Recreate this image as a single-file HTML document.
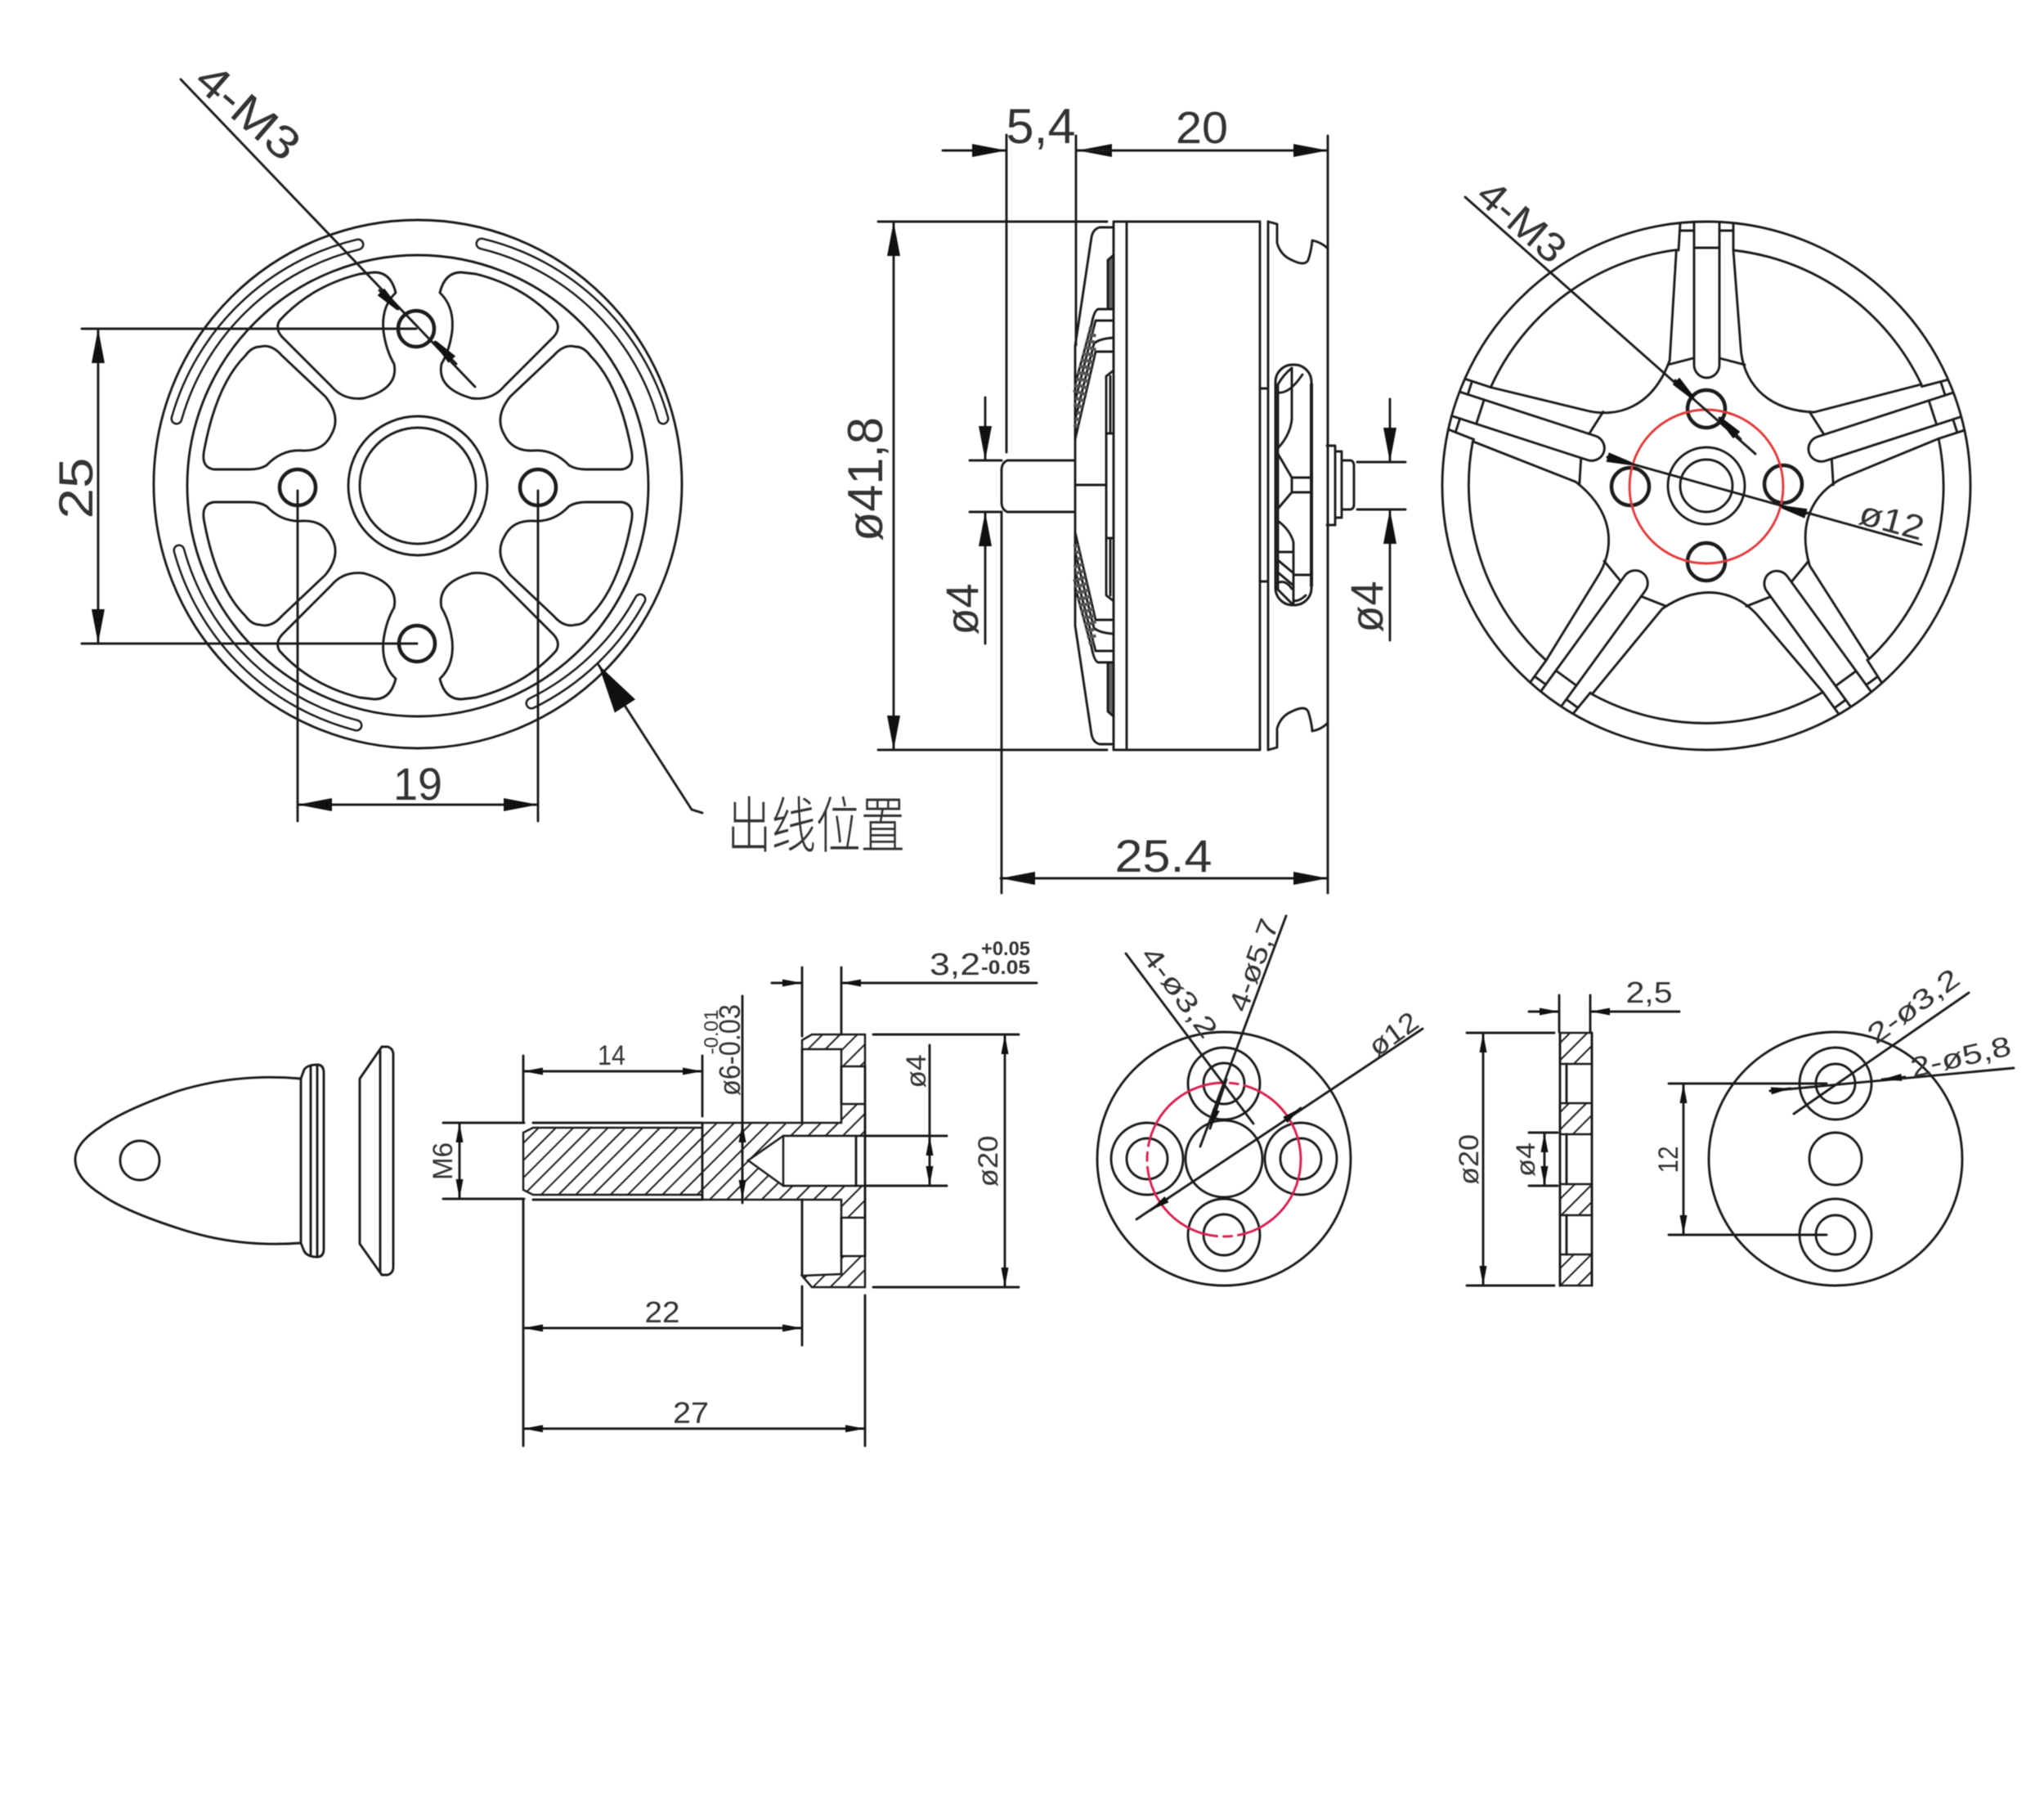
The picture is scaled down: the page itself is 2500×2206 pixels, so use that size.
<!DOCTYPE html>
<html><head><meta charset="utf-8"><title>Motor drawing</title>
<style>
html,body{margin:0;padding:0;background:#fff;width:2500px;height:2206px;overflow:hidden}
svg{display:block;filter:blur(.6px)}
text{font-family:"Liberation Sans","Noto Sans CJK SC",sans-serif;fill:#333;text-anchor:middle}
.l{fill:none;stroke:#1c1c1c;stroke-width:2.9;stroke-linecap:round;stroke-linejoin:round}
.t{stroke:#1c1c1c;stroke-width:2.5}
</style></head><body>
<svg xmlns="http://www.w3.org/2000/svg" width="2500" height="2206" viewBox="0 0 2500 2206">
<defs>
<marker id="A" markerUnits="userSpaceOnUse" viewBox="0 0 42 16" refX="42" refY="8" markerWidth="42" markerHeight="16" orient="auto-start-reverse"><path d="M0,0L42,8L0,16z" fill="#111"/></marker>
<marker id="S" markerUnits="userSpaceOnUse" viewBox="0 0 24 9" refX="24" refY="4.5" markerWidth="24" markerHeight="9" orient="auto-start-reverse"><path d="M0,0L24,4.5L0,9z" fill="#111"/></marker>
<marker id="T" markerUnits="userSpaceOnUse" viewBox="0 0 30 12" refX="30" refY="6" markerWidth="30" markerHeight="12" orient="auto-start-reverse"><path d="M0,0L30,4L30,8L0,12z" fill="#111"/></marker>
<marker id="W" markerUnits="userSpaceOnUse" viewBox="0 0 60 30" refX="60" refY="15" markerWidth="60" markerHeight="30" orient="auto-start-reverse"><path d="M0,0L60,15L0,30z" fill="#111"/></marker>
<pattern id="h" patternUnits="userSpaceOnUse" width="15" height="15" patternTransform="rotate(45)"><line x1="0" y1="0" x2="0" y2="15" stroke="#222" stroke-width="4"/></pattern>
<path id="p1" d="M342,392Q380,350 440,335L458,333Q478,333 484,358Q466,375 469,405Q472,428 482,445Q488,475 445,487Q420,490 405,472L345,412Q336,402 342,392Z"/>
<path id="p2" d="M318,424Q332,420 345,435L398,485Q418,510 405,532Q395,552 370,551Q345,549 326,569Q318,574 305,574L262,574Q245,572 250,549Q265,470 300,435Q308,424 318,424Z"/>
<g id="sp">
<path d="M33,-288L42,-170C44,-130 70,-92 132,-90L263,-124A290,290 0 0 0 33,-288Z"/>
<path d="M-15,-322L-15,-148A15.5,16 0 0 0 16,-148L16,-322"/>
<path d="M-15,-291H16M-32,-312H-15M16,-312H33M33,-321L33,-288M-32,-321L-34,-288M-47,-148L-16,-156M16,-156L47,-148"/>
</g>
<g id="cupper">
<path d="M1362,278H1345Q1337,280 1335,290L1315,423V537"/>
<path d="M1362,378H1343Q1338,380 1335,397L1315,470M1362,392H1340L1315,490M1362,413Q1345,414 1338,420L1315,513M1362,430H1340L1315,537"/>
<path d="M1335,400L1315,480M1338,408L1315,500M1338,425L1315,525" stroke="#555" stroke-width="6" stroke-dasharray="4 4" stroke-linecap="butt"/>
<path d="M1362,312L1355,318V378H1362Z" fill="#666"/>
<path d="M1362,453L1353,460V594M1358,460V530"/>
<path d="M1353,530H1362"/>
<path d="M1551,271L1562,274L1562,297Q1566,312 1580,318Q1596,326 1600,318Q1604,306 1605,294Q1616,296 1624,304"/>
</g>
</defs>

<!-- LEFT VIEW -->
<g class="l">
<circle cx="511" cy="592" r="323"/>
<circle cx="511" cy="594" r="282"/>
<circle cx="511" cy="594" r="85"/>
<circle cx="511" cy="594" r="71"/>
<circle cx="509" cy="402" r="22" stroke-width="4.5"/>
<circle cx="510" cy="787" r="22" stroke-width="4.5"/>
<circle cx="364" cy="596" r="22" stroke-width="4.5"/>
<circle cx="658" cy="596" r="22" stroke-width="4.5"/>
<use href="#p1"/><use href="#p2"/>
<g transform="translate(1022,0) scale(-1,1)"><use href="#p1"/><use href="#p2"/></g>
<g transform="translate(0,1188) scale(1,-1)"><use href="#p1"/><use href="#p2"/></g>
<g transform="translate(1022,1188) scale(-1,-1)"><use href="#p1"/><use href="#p2"/></g>
<path d="M438,299A304,304 0 0 0 216,512" stroke-width="15"/>
<path d="M589,298A304,304 0 0 1 811,512" stroke-width="15"/>
<path d="M219,673A304,304 0 0 0 436,887" stroke-width="15"/>
<path d="M783,733A304,304 0 0 1 650,860" stroke-width="15"/>
<path d="M438,299A304,304 0 0 0 216,512" stroke="#fff" stroke-width="10"/>
<path d="M589,298A304,304 0 0 1 811,512" stroke="#fff" stroke-width="10"/>
<path d="M219,673A304,304 0 0 0 436,887" stroke="#fff" stroke-width="10"/>
<path d="M783,733A304,304 0 0 1 650,860" stroke="#fff" stroke-width="10"/>
<!-- dims -->
<path d="M221,97L581,473"/>
<path d="M464,355L487,378" marker-end="url(#T)"/>
<path d="M558,445L532,418" marker-end="url(#T)"/>
<path d="M100,402H509M100,787H510"/>
<path d="M120,402V787" marker-start="url(#A)" marker-end="url(#A)"/>
<path d="M364,600V1004M658,600V1004"/>
<path d="M364,984H658" marker-start="url(#A)" marker-end="url(#A)"/>
<path d="M859,994L846,990L732,813" marker-end="url(#W)"/>
</g>
<text transform="translate(304,136) rotate(41)" y="20" font-size="56" textLength="148" lengthAdjust="spacingAndGlyphs">4-M3</text>
<text transform="translate(93,597) rotate(-90)" y="20" font-size="58" textLength="75" lengthAdjust="spacingAndGlyphs">25</text>
<text x="511" y="978" font-size="56" textLength="60" lengthAdjust="spacingAndGlyphs">19</text>
<text transform="translate(998,1036) scale(1,1.38)" font-size="54" textLength="218" lengthAdjust="spacingAndGlyphs" font-weight="300">出线位置</text>

<!-- MOTOR SIDE VIEW -->
<g class="l">
<path d="M1362,271V917M1378,271V917M1541,271V917M1362,271H1541M1362,917H1541"/>
<path d="M1551,271V917M1624,304V884M1541,475H1551M1541,711H1551"/>
<use href="#cupper"/>
<g transform="translate(0,1188) scale(1,-1)"><use href="#cupper"/></g>
<path d="M1315,563H1232Q1225,566 1225,575V614Q1225,623 1232,626H1315M1315,537V651M1315,593H1353"/>
<!-- vent window -->
<rect x="1560" y="446" width="44" height="294" rx="21" stroke-width="3"/>
<path d="M1604,470V716" stroke-width="4"/>
<path d="M1563,470V720M1580,450V513Q1578,532 1563,548M1563,555L1580,584H1604M1580,584V602M1580,602H1604M1580,602L1563,622M1563,637Q1578,648 1582,663V703H1602M1582,703V738M1563,470Q1570,458 1580,450M1563,480Q1577,482 1593,458M1563,675H1582M1563,685L1581,700M1563,700L1582,716M1562,713Q1572,708 1580,720M1562,720L1580,738M1582,735Q1590,735 1597,728"/>
<!-- nub -->
<path d="M1623,545H1633V552H1641V563H1652Q1656,564 1656,570V617Q1656,622 1652,623H1641V633H1633V642H1623M1633,552V633M1641,563V623"/>
<!-- dims -->
<path d="M1231,165V553M1316,166V422M1624,166V1092M1225,626V1092"/>
<path d="M1153,184H1231" marker-end="url(#A)"/>
<path d="M1318,184H1400" marker-start="url(#A)"/>
<path d="M1330,184H1624" marker-end="url(#A)"/>
<path d="M1074,271H1354M1074,917H1354"/>
<path d="M1093,271V917" marker-start="url(#A)" marker-end="url(#A)"/>
<path d="M1186,563H1225M1186,626H1225"/>
<path d="M1205,486V563" marker-end="url(#A)"/>
<path d="M1205,787V626" marker-end="url(#A)"/>
<path d="M1660,565H1719M1660,623H1719"/>
<path d="M1700,488V565" marker-end="url(#A)"/>
<path d="M1700,783V623" marker-end="url(#A)"/>
<path d="M1224,1074H1624" marker-start="url(#A)" marker-end="url(#A)"/>
</g>
<text x="1273" y="175" font-size="60" textLength="85" lengthAdjust="spacingAndGlyphs">5,4</text>
<text x="1470" y="175" font-size="55" textLength="64" lengthAdjust="spacingAndGlyphs">20</text>
<text transform="translate(1058,586) rotate(-90)" y="21" font-size="60" textLength="152" lengthAdjust="spacingAndGlyphs">ø41,8</text>
<text transform="translate(1176,745) rotate(-90)" y="20" font-size="56" textLength="63" lengthAdjust="spacingAndGlyphs">ø4</text>
<text transform="translate(1671,742) rotate(-90)" y="20" font-size="56" textLength="63" lengthAdjust="spacingAndGlyphs">ø4</text>
<text x="1423" y="1066" font-size="56" textLength="119" lengthAdjust="spacingAndGlyphs">25.4</text>

<!-- WHEEL VIEW -->
<g class="l">
<circle cx="2087" cy="594" r="323"/>
<circle cx="2087" cy="594" r="47"/>
<circle cx="2087" cy="594" r="32"/>
<circle cx="2087" cy="500" r="23" stroke-width="4.5"/>
<circle cx="2087" cy="687" r="23" stroke-width="4.5"/>
<circle cx="1994" cy="595" r="23" stroke-width="4.5"/>
<circle cx="2181" cy="592" r="23" stroke-width="4.5"/>
<use href="#sp" transform="translate(2087,594)"/>
<use href="#sp" transform="translate(2087,594) rotate(72)"/>
<use href="#sp" transform="translate(2087,594) rotate(144)"/>
<use href="#sp" transform="translate(2087,594) rotate(216)"/>
<use href="#sp" transform="translate(2087,594) rotate(288)"/>
<circle cx="2087" cy="595" r="94" stroke="#e23b3b"/>
<path d="M1792,241L2147,555"/>
<path d="M2049,465L2071,487" marker-end="url(#T)"/>
<path d="M2129,537L2103,511" marker-end="url(#T)"/>
<path d="M1966,559L2350,666"/>
<path d="M1966,559L1995,567" marker-end="url(#T)"/>
<path d="M2209,628L2180,620" marker-end="url(#T)"/>
</g>
<text transform="translate(1862,270) rotate(41)" y="18" font-size="50" textLength="125" lengthAdjust="spacingAndGlyphs">4-M3</text>
<text transform="translate(2314,636) rotate(15)" y="15" font-size="42" textLength="80" lengthAdjust="spacingAndGlyphs">ø12</text>

<!-- BOTTOM ROW: nut and washer -->
<g class="l">
<path d="M368,1319Q290,1312 218,1334Q150,1358 123,1378Q92,1398 92,1418Q92,1440 123,1460Q150,1480 218,1502Q290,1526 368,1520"/>
<circle cx="171" cy="1419" r="24"/>
<path d="M368,1319L372,1308Q376,1302 388,1302Q396,1302 396,1312V1527Q396,1537 388,1537Q376,1537 372,1530L368,1520Z"/>
<path d="M380,1304V1535M388,1302V1537"/>
<path d="M467,1280H474Q481,1282 481,1290V1549Q481,1557 474,1559H467L440,1521V1319Z"/>
<path d="M465,1285V1555"/>
</g>
<!-- bolt section -->
<path d="M640,1385L652,1379H859V1373H1029V1350H1058V1389H958L915,1419L958,1450H1058V1489H1029V1467H859V1461H652L640,1455Z" fill="url(#h)" class="t"/>
<path d="M958,1389H1058V1450H958Z" fill="#fff" class="t"/>
<path d="M993,1265H1058V1304H1029V1283H981V1272Z" fill="url(#h)" class="t"/>
<path d="M981,1560L993,1574H1058V1536H1029V1558Z" fill="url(#h)" class="t"/>
<g class="l">
<path d="M652,1373H859M652,1467H859M859,1373V1467"/>
<path d="M981,1283V1371M981,1467V1558M1029,1304V1350M1029,1489V1536M1058,1304V1536M1047,1389V1450"/>
<!-- dims -->
<path d="M981,1183V1267M1029,1183V1265"/>
<path d="M944,1202H981" marker-end="url(#S)"/>
<path d="M1268,1202H1029" marker-end="url(#S)"/>
<path d="M640,1291V1373M859,1291V1365"/>
<path d="M640,1310H859" marker-start="url(#S)" marker-end="url(#S)"/>
<path d="M908,1218V1471"/>
<path d="M908,1373V1410" marker-start="url(#S)"/>
<path d="M908,1430V1467" marker-end="url(#S)"/>
<path d="M542,1373H641M542,1466H641"/>
<path d="M562,1373V1466" marker-start="url(#S)" marker-end="url(#S)"/>
<path d="M1058,1389H1158M1058,1450H1158"/>
<path d="M1137,1278V1389"/>
<path d="M1137,1389V1450" marker-start="url(#S)" marker-end="url(#S)"/>
<path d="M1068,1265H1246M1068,1574H1246"/>
<path d="M1229,1265V1574" marker-start="url(#S)" marker-end="url(#S)"/>
<path d="M640,1467V1768M981,1573V1645M1058,1584V1768"/>
<path d="M640,1624H981" marker-start="url(#S)" marker-end="url(#S)"/>
<path d="M640,1747H1058" marker-start="url(#S)" marker-end="url(#S)"/>
</g>
<text x="1168" y="1192" font-size="38" textLength="62" lengthAdjust="spacingAndGlyphs">3,2</text>
<text x="1230" y="1168" font-size="24" textLength="60" lengthAdjust="spacingAndGlyphs" font-weight="bold">+0.05</text>
<text x="1230" y="1191" font-size="24" textLength="60" lengthAdjust="spacingAndGlyphs" font-weight="bold">-0.05</text>
<text transform="translate(892,1284) rotate(-90)" y="13" font-size="36" textLength="112" lengthAdjust="spacingAndGlyphs">ø6-0.03</text>
<text transform="translate(869,1262) rotate(-90)" y="9" font-size="24" textLength="55" lengthAdjust="spacingAndGlyphs">-0.01</text>
<text x="748" y="1302" font-size="34" textLength="34" lengthAdjust="spacingAndGlyphs">14</text>
<text transform="translate(541,1420) rotate(-90)" y="12" font-size="34" textLength="46" lengthAdjust="spacingAndGlyphs">M6</text>
<text transform="translate(1120,1310) rotate(-90)" y="12" font-size="34" textLength="41" lengthAdjust="spacingAndGlyphs">ø4</text>
<text transform="translate(1208,1420) rotate(-90)" y="12" font-size="34" textLength="63" lengthAdjust="spacingAndGlyphs">ø20</text>
<text x="810" y="1617" font-size="36" textLength="43" lengthAdjust="spacingAndGlyphs">22</text>
<text x="845" y="1740" font-size="36" textLength="44" lengthAdjust="spacingAndGlyphs">27</text>

<!-- FLANGE DISC -->
<g class="l">
<circle cx="1497" cy="1417" r="155"/>
<circle cx="1497" cy="1417" r="47"/>
<circle cx="1497" cy="1325" r="44"/><circle cx="1497" cy="1325" r="25"/>
<circle cx="1497" cy="1510" r="44"/><circle cx="1497" cy="1510" r="25"/>
<circle cx="1403" cy="1417" r="44"/><circle cx="1403" cy="1417" r="25"/>
<circle cx="1591" cy="1417" r="44"/><circle cx="1591" cy="1417" r="25"/>
<circle cx="1497" cy="1418" r="94" stroke="#d8204f" stroke-dasharray="130 8 10 8"/>
<path d="M1377,1166L1533,1374"/>
<path d="M1573,1120L1468,1402"/>
<path d="M1500,1320L1480,1380" marker-end="url(#S)"/>
<path d="M1740,1258L1390,1491"/>
<path d="M1570,1371L1591,1355" marker-end="url(#S)"/>
<path d="M1428,1466L1407,1480" marker-end="url(#S)"/>
</g>
<text transform="translate(1443,1213) rotate(53)" y="12" font-size="34" textLength="130" lengthAdjust="spacingAndGlyphs">4-ø3,2</text>
<text transform="translate(1533,1180) rotate(-70)" y="12" font-size="34" textLength="118" lengthAdjust="spacingAndGlyphs">4-ø5,7</text>
<text transform="translate(1704,1264) rotate(-36)" y="12" font-size="34" textLength="66" lengthAdjust="spacingAndGlyphs">ø12</text>

<!-- WASHER SECTION -->
<path d="M1908,1263H1947V1301H1908Z" fill="url(#h)" class="t"/>
<path d="M1908,1349H1947V1387H1908Z" fill="url(#h)" class="t"/>
<path d="M1908,1448H1947V1486H1908Z" fill="url(#h)" class="t"/>
<path d="M1908,1534H1947V1572H1908Z" fill="url(#h)" class="t"/>
<g class="l">
<path d="M1908,1263V1572M1947,1263V1572M1916,1301V1349M1916,1387V1448M1916,1486V1534"/>
<path d="M1907,1217V1262M1945,1217V1262"/>
<path d="M1870,1237H1907" marker-end="url(#S)"/>
<path d="M2054,1237H1945" marker-end="url(#S)"/>
<path d="M1794,1263H1901M1794,1572H1901"/>
<path d="M1814,1263V1572" marker-start="url(#S)" marker-end="url(#S)"/>
<path d="M1870,1385H1905M1870,1450H1905"/>
<path d="M1889,1385V1450" marker-start="url(#S)" marker-end="url(#S)"/>
</g>
<text x="2017" y="1226" font-size="36" textLength="57" lengthAdjust="spacingAndGlyphs">2,5</text>
<text transform="translate(1796,1418) rotate(-90)" y="12" font-size="34" textLength="62" lengthAdjust="spacingAndGlyphs">ø20</text>
<text transform="translate(1866,1418) rotate(-90)" y="11" font-size="32" textLength="42" lengthAdjust="spacingAndGlyphs">ø4</text>

<!-- RIGHT DISC -->
<g class="l">
<circle cx="2245" cy="1417" r="155"/>
<circle cx="2245" cy="1417" r="32"/>
<circle cx="2245" cy="1325" r="44"/><circle cx="2245" cy="1325" r="24"/>
<circle cx="2245" cy="1510" r="44"/><circle cx="2245" cy="1510" r="24"/>
<path d="M2041,1325H2234M2041,1510H2234"/>
<path d="M2059,1325V1510" marker-start="url(#S)" marker-end="url(#S)"/>
<path d="M2408,1214L2194,1362"/>
<path d="M2463,1306L2165,1334"/>
<path d="M2330,1317L2302,1320" marker-end="url(#S)"/>
<path d="M2165,1334L2190,1331" marker-end="url(#S)"/>
</g>
<text transform="translate(2040,1418) rotate(-90)" y="12" font-size="34" textLength="33" lengthAdjust="spacingAndGlyphs">12</text>
<text transform="translate(2340,1230) rotate(-36)" y="12" font-size="34" textLength="130" lengthAdjust="spacingAndGlyphs">2-ø3,2</text>
<text transform="translate(2398,1292) rotate(-13)" y="12" font-size="34" textLength="125" lengthAdjust="spacingAndGlyphs">2-ø5,8</text>
</svg>
</body></html>
